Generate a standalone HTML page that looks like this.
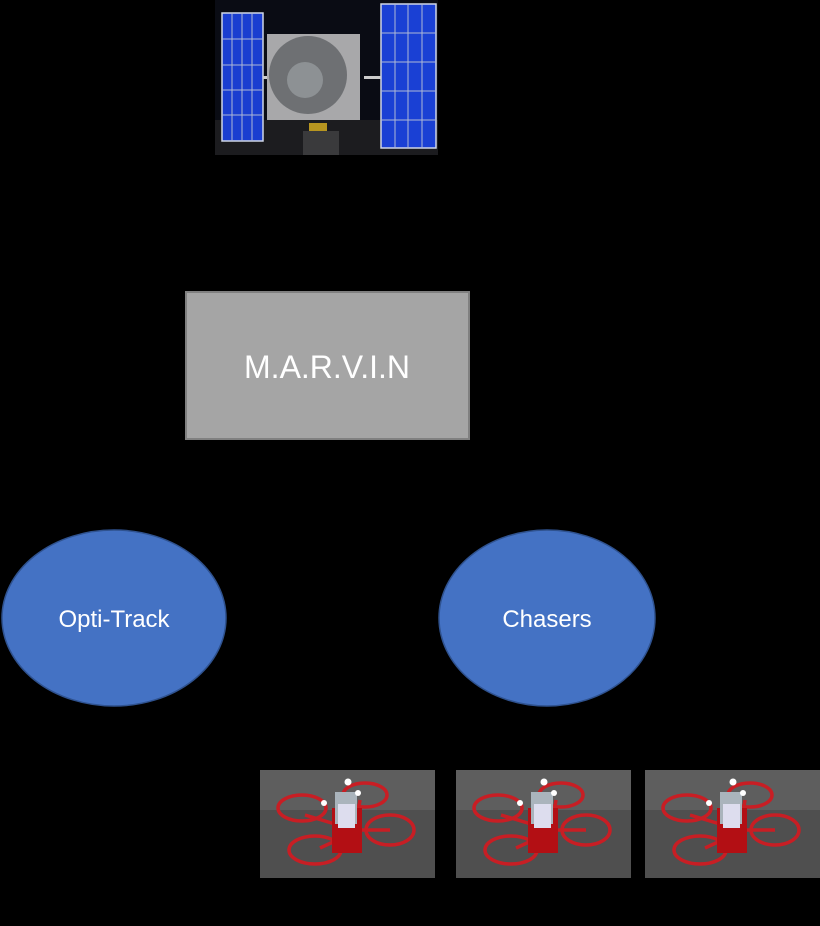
<!DOCTYPE html>
<html><head><style>
html,body{margin:0;padding:0;background:#000;}
svg{display:block;}
text{font-family:"Liberation Sans",sans-serif;fill:#fff;}
</style></head><body>
<svg width="820" height="926" viewBox="0 0 820 926" xmlns="http://www.w3.org/2000/svg">
<rect width="820" height="926" fill="#000"/>
<defs>
<g id="drone">
<rect x="0" y="0" width="175" height="108" fill="#4f4f4f"/>
<rect x="0" y="0" width="175" height="40" fill="#5e5e5e"/>
<g fill="none" stroke="#c81e24" stroke-width="3.5">
<ellipse cx="42" cy="38" rx="24" ry="13"/>
<ellipse cx="105" cy="25" rx="22" ry="12"/>
<ellipse cx="55" cy="80" rx="26" ry="14"/>
<ellipse cx="130" cy="60" rx="24" ry="15"/>
<path d="M45 45 L95 60 L130 60 M60 78 L95 62 L100 30"/>
</g>
<rect x="72" y="38" width="30" height="45" fill="#b30f14"/>
<rect x="75" y="22" width="22" height="32" fill="#aab4bc"/>
<rect x="78" y="34" width="17" height="24" fill="#dde"/>
<circle cx="88" cy="12" r="3.5" fill="#fff"/>
<circle cx="64" cy="33" r="3" fill="#fff"/>
<circle cx="98" cy="23" r="3" fill="#fff"/>
</g>
</defs>
<!-- satellite photo -->
<rect x="215" y="0" width="223" height="155" fill="#0a0c14"/>
<rect x="215" y="120" width="223" height="35" fill="#1c1c1f"/>
<rect x="222" y="13" width="41" height="128" fill="#1a3ed0" stroke="#cfd6e6" stroke-width="1.5"/>
<g stroke="#aeb8d6" stroke-width="1">
<line x1="232" y1="13" x2="232" y2="141"/><line x1="242" y1="13" x2="242" y2="141"/><line x1="252" y1="13" x2="252" y2="141"/>
<line x1="222" y1="39" x2="263" y2="39"/><line x1="222" y1="65" x2="263" y2="65"/><line x1="222" y1="90" x2="263" y2="90"/><line x1="222" y1="115" x2="263" y2="115"/>
</g>
<rect x="381" y="4" width="55" height="144" fill="#1a40d4" stroke="#cfd6e6" stroke-width="1.5"/>
<g stroke="#aeb8d6" stroke-width="1">
<line x1="395" y1="4" x2="395" y2="148"/><line x1="408" y1="4" x2="408" y2="148"/><line x1="422" y1="4" x2="422" y2="148"/>
<line x1="381" y1="33" x2="436" y2="33"/><line x1="381" y1="62" x2="436" y2="62"/><line x1="381" y1="91" x2="436" y2="91"/><line x1="381" y1="120" x2="436" y2="120"/>
</g>
<rect x="263" y="76" width="6" height="3" fill="#ccc"/><rect x="364" y="76" width="17" height="3" fill="#ccc"/>
<rect x="267" y="34" width="93" height="86" fill="#a8a8aa"/>
<circle cx="308" cy="75" r="39" fill="#6e7073"/>
<circle cx="305" cy="80" r="18" fill="#8d9194"/>
<rect x="309" y="123" width="18" height="8" fill="#b79520"/>
<rect x="303" y="131" width="36" height="24" fill="#3a3a3c"/>
<!-- MARVIN -->
<rect x="186" y="292" width="283" height="147" fill="#a5a5a5" stroke="#808080" stroke-width="2"/>
<text x="327" y="378" font-size="32" text-anchor="middle">M.A.R.V.I.N</text>
<!-- ellipses -->
<ellipse cx="114" cy="618" rx="112" ry="88" fill="#4472c4" stroke="#2f528f" stroke-width="1.5"/>
<text x="114" y="627" font-size="24" text-anchor="middle">Opti-Track</text>
<ellipse cx="547" cy="618" rx="108" ry="88" fill="#4472c4" stroke="#2f528f" stroke-width="1.5"/>
<text x="547" y="627" font-size="24" text-anchor="middle">Chasers</text>
<!-- drones -->
<use href="#drone" x="260" y="770"/>
<use href="#drone" x="456" y="770"/>
<use href="#drone" x="645" y="770"/>
</svg>
</body></html>
